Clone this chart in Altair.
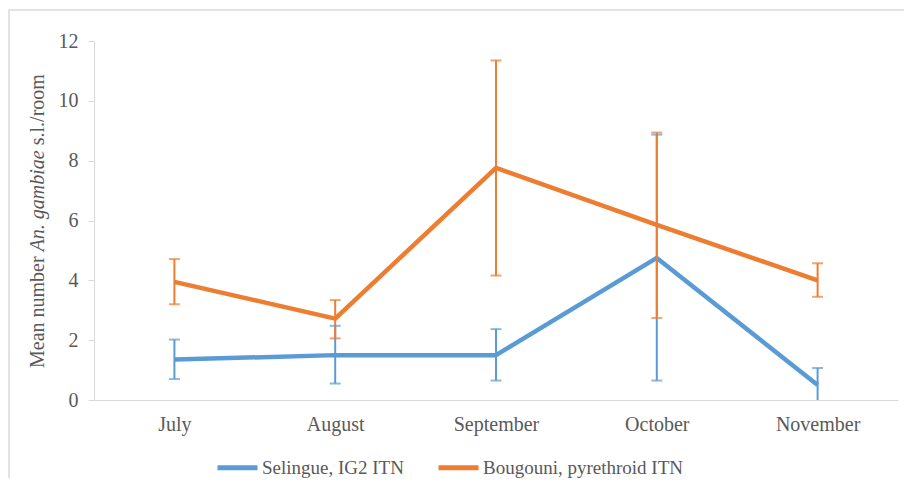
import altair as alt
import pandas as pd

months = ["July", "August", "September", "October", "November"]
series_names = ["Selingue, IG2 ITN", "Bougouni, pyrethroid ITN"]
sel_mean = [1.35, 1.5, 1.5, 4.75, 0.5]
sel_low = [0.7, 0.55, 0.65, 0.65, -0.1]
sel_high = [2.02, 2.48, 2.37, 8.87, 1.07]
bou_mean = [3.95, 2.72, 7.76, 5.85, 4.0]
bou_low = [3.2, 2.06, 4.16, 2.74, 3.45]
bou_high = [4.71, 3.34, 11.35, 8.94, 4.57]
colors = ["#5B9BD5", "#ED7D31"]

rows = []
for name, m, lo, hi in [(series_names[0], sel_mean, sel_low, sel_high),
                        (series_names[1], bou_mean, bou_low, bou_high)]:
    for i, mo in enumerate(months):
        rows.append({"month": mo, "series": name, "mean": m[i], "low": lo[i], "high": hi[i]})
df = pd.DataFrame(rows)

FONT = "Liberation Serif"
GREY = "#595959"
LINE = "#d9d9d9"

x_enc = alt.X("month:N", sort=months,
              scale=alt.Scale(type="point", padding=0.5),
              axis=alt.Axis(title=None, labelAngle=0, ticks=False, domainColor=LINE,
                            labelColor=GREY, labelFont=FONT, labelFontSize=20,
                            labelPadding=14))
y_scale = alt.Scale(domain=[0, 12], nice=False)
color_scale = alt.Scale(domain=series_names, range=colors)

base = alt.Chart(df)

lines = base.mark_line(strokeWidth=4.5, strokeJoin="round").encode(
    x=x_enc,
    y=alt.Y("mean:Q", scale=y_scale,
            axis=alt.Axis(title=None, values=[0, 2, 4, 6, 8, 10, 12], grid=False,
                          tickColor=LINE, tickSize=6, domainColor=LINE,
                          labelColor=GREY, labelFont=FONT, labelFontSize=20,
                          labelPadding=10)),
    color=alt.Color("series:N", scale=color_scale, sort=series_names,
                    legend=alt.Legend(title=None, orient="none", direction="horizontal",
                                      legendX=121, legendY=404, symbolType="stroke",
                                      symbolSize=1600, symbolStrokeWidth=5,
                                      labelFont=FONT, labelFontSize=19, labelColor=GREY,
                                      labelOffset=2, columnPadding=24, labelLimit=400)),
)

bars = base.mark_rule(strokeWidth=2, clip=True).encode(
    x=alt.X("month:N", sort=months),
    y=alt.Y("low:Q", scale=y_scale),
    y2="high:Q",
    color=alt.Color("series:N", scale=color_scale, legend=None),
)
cap_hi = base.mark_tick(size=11, thickness=2, clip=True).encode(
    x=alt.X("month:N", sort=months),
    y=alt.Y("high:Q", scale=y_scale),
    color=alt.Color("series:N", scale=color_scale, legend=None),
)
cap_lo = base.mark_tick(size=11, thickness=2, clip=True).encode(
    x=alt.X("month:N", sort=months),
    y=alt.Y("low:Q", scale=y_scale),
    color=alt.Color("series:N", scale=color_scale, legend=None),
)

# y-axis title composed of regular + italic parts
fs = 20
one = pd.DataFrame({"a": [0]})
y0 = 327
t1 = alt.Chart(one).mark_text(angle=270, align="left", baseline="middle", font=FONT,
                              fontSize=fs, color=GREY, text="Mean number").encode(
    x=alt.value(-56), y=alt.value(y0))
t2 = alt.Chart(one).mark_text(angle=270, align="left", baseline="middle", font=FONT,
                              fontSize=fs, color=GREY, fontStyle="italic",
                              text="An. gambiae").encode(
    x=alt.value(-56), y=alt.value(y0 - 5.832 * fs))
t3 = alt.Chart(one).mark_text(angle=270, align="left", baseline="middle", font=FONT,
                              fontSize=fs, color=GREY, text="s.l./room").encode(
    x=alt.value(-56), y=alt.value(y0 - (5.832 + 5.055 + 0.25) * fs))

border = alt.Chart(one).mark_rect(fill=None, stroke=LINE, strokeWidth=1.5).encode(
    x=alt.value(-85), x2=alt.value(840), y=alt.value(-31), y2=alt.value(500))

chart = alt.layer(border, lines, bars, cap_hi, cap_lo, t1, t2, t3).properties(
    width=804, height=359,
    autosize=alt.AutoSizeParams(type="none"),
    padding={"left": 86, "top": 33, "right": 6, "bottom": 78},
    background="white",
).configure_view(stroke=None)

chart.save("out.html", embed_options={"renderer": "svg", "actions": False})
